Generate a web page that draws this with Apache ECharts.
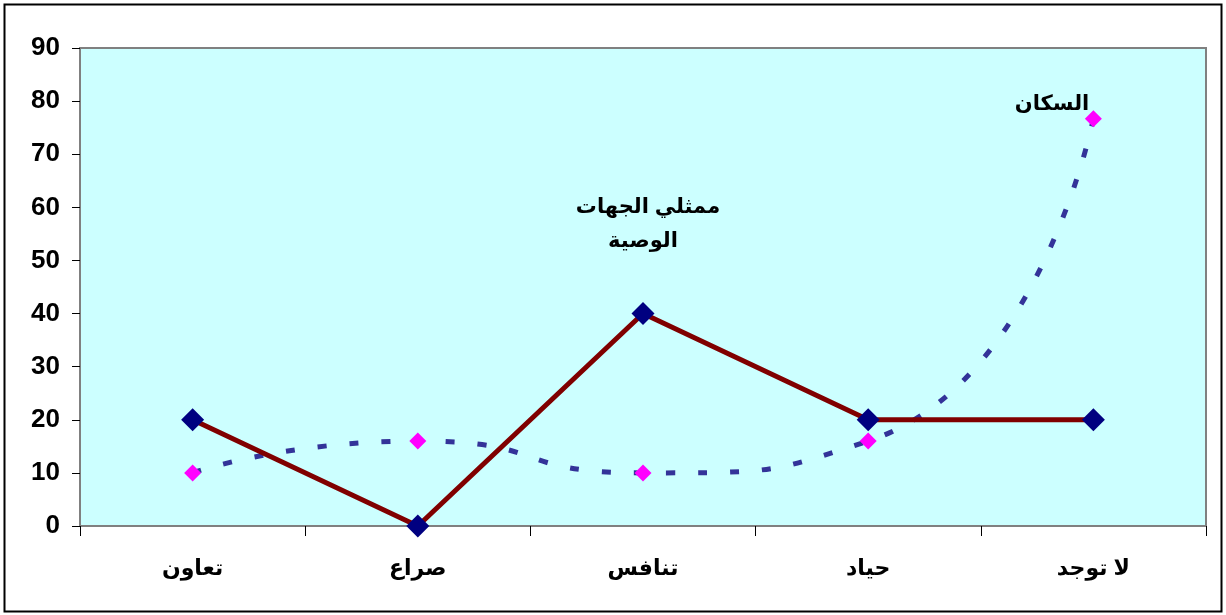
<!DOCTYPE html>
<html>
<head>
<meta charset="utf-8">
<script src="https://cdn.jsdelivr.net/npm/echarts@6/dist/echarts.min.js"></script>
<style>
	html, body { margin: 0; padding: 0; background: #fff; }
	#main { width: 1226px; height: 615px; }
</style>
</head>
<body>
<div id="main"></div>
<script>
	// 类别 (x轴)
	var categories = ['تعاون', 'صراع', 'تنافس', 'حياد', 'لا توجد'];
	// ممثلي الجهات الوصية
	var wasiyaValues = [20, 0, 40, 20, 20];
	// السكان
	var sukkanValues = [10, 16, 10, 16, 76.7];
	var yTicks = [0, 10, 20, 30, 40, 50, 60, 70, 80, 90];

	var font = 'Arial, "Liberation Sans", "DejaVu Sans", sans-serif';
	var myChart = echarts.init(document.getElementById('main'));

	myChart.setOption({
		backgroundColor: '#fff',
		animation: false,
		grid: {
			left: 80, right: 20, top: 48, bottom: 89,
			show: true,
			backgroundColor: '#CCFFFF',
			borderColor: '#808080',
			borderWidth: 2
		},
		xAxis: {
			type: 'category',
			data: categories,
			boundaryGap: true,
			axisLine: { lineStyle: { color: '#808080', width: 2 } },
			axisTick: { show: true, length: 10, lineStyle: { color: '#000', width: 1 } },
			axisLabel: {
				color: '#000', fontSize: 22, fontWeight: 'bold', fontFamily: font, margin: 32
			},
			splitLine: { show: false }
		},
		yAxis: {
			type: 'value',
			min: yTicks[0],
			max: yTicks[yTicks.length - 1],
			interval: 10,
			axisLine: { show: true, lineStyle: { color: '#808080', width: 2 } },
			axisTick: { show: true, length: 8, lineStyle: { color: '#000', width: 1 } },
			axisLabel: {
				color: '#000', fontSize: 26, fontWeight: 'bold', fontFamily: font, margin: 20
			},
			splitLine: { show: false }
		},
		graphic: [
			{
				type: 'rect',
				shape: { x: 4.5, y: 4.5, width: 1217, height: 607 },
				style: { fill: 'none', stroke: '#000', lineWidth: 2 },
				silent: true
			},
			{
				type: 'text', x: 648, y: 207,
				style: {
					text: 'ممثلي الجهات', fill: '#000', font: 'bold 21px ' + font,
					textAlign: 'center', textVerticalAlign: 'middle'
				}
			},
			{
				type: 'text', x: 643, y: 241,
				style: {
					text: 'الوصية', fill: '#000', font: 'bold 21px ' + font,
					textAlign: 'center', textVerticalAlign: 'middle'
				}
			},
			{
				type: 'text', x: 1052, y: 104,
				style: {
					text: 'السكان', fill: '#000', font: 'bold 21px ' + font,
					textAlign: 'center', textVerticalAlign: 'middle'
				}
			}
		],
		series: [
			{
				name: 'السكان',
				type: 'line',
				data: sukkanValues,
				smooth: 0.6,
				symbol: 'diamond',
				symbolSize: 17,
				itemStyle: { color: '#FF00FF' },
				lineStyle: { color: '#333399', width: 5, type: [9, 23], cap: 'butt' },
				z: 2
			},
			{
				name: 'ممثلي الجهات الوصية',
				type: 'line',
				data: wasiyaValues,
				symbol: 'diamond',
				symbolSize: 23,
				itemStyle: { color: '#000080' },
				lineStyle: { color: '#800000', width: 5 },
				z: 3
			}
		]
	});
</script>
</body>
</html>
